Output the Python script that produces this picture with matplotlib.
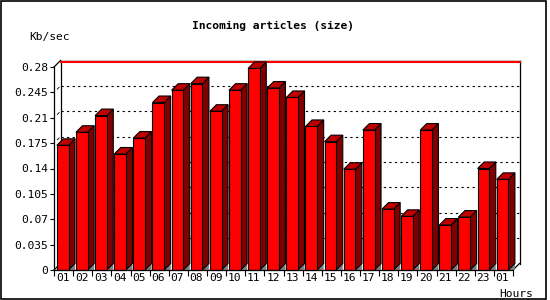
import matplotlib
matplotlib.use("Agg")
import matplotlib.pyplot as plt
from matplotlib.patches import Rectangle, Polygon

hours = ["01", "02", "03", "04", "05", "06", "07", "08", "09", "10", "11", "12",
         "13", "14", "15", "16", "17", "18", "19", "20", "21", "22", "23", "01"]
kbsec = [0.172, 0.190, 0.213, 0.160, 0.182, 0.231, 0.248, 0.257, 0.219, 0.248, 0.278, 0.251,
         0.238, 0.198, 0.177, 0.139, 0.193, 0.084, 0.074, 0.193, 0.062, 0.073, 0.140, 0.125]
yticks = [0, 0.035, 0.07, 0.105, 0.14, 0.175, 0.21, 0.245, 0.28]
ytick_labels = ["0", "0.035", "0.07", "0.105", "0.14", "0.175", "0.21", "0.245", "0.28"]

W, H = 550, 300
fig = plt.figure(figsize=(W / 100, H / 100), dpi=100)
fig.patch.set_facecolor("white")
mono = "DejaVu Sans Mono"
fs = 8.1

# front plane of the chart, in pixels: x 54..513, y 67..270
ax = fig.add_axes([54 / W, 30 / H, 459 / W, 203 / H])
ax.set_xlim(0, len(hours))
ax.set_ylim(0, 0.28)
ax.patch.set_visible(False)

px_x = len(hours) / 459.0
px_y = 0.28 / 203.0
dx = 6.5 * px_x
dy = 6.5 * px_y
top = 0.28
n = len(hours)

# back wall
ax.add_patch(Rectangle((dx, dy), n, top, facecolor="white", edgecolor="none", zorder=0, clip_on=False))
for v in yticks[1:-1]:
    ax.plot([dx, n + dx], [v + dy, v + dy], color="black", lw=0.8, ls=(0, (2, 3)), zorder=1, clip_on=False)
    ax.plot([0.5 * dx, 0.8 * dx], [v + 0.5 * dy, v + 0.8 * dy], color="black", lw=0.6, zorder=1, clip_on=False)
ax.plot([dx, dx], [dy, top + dy], color="black", lw=0.9, zorder=1, clip_on=False)
ax.plot([n + dx, n + dx], [dy, top + dy], color="black", lw=0.9, zorder=1, clip_on=False)
ax.plot([n, n + dx], [0, dy], color="black", lw=0.9, zorder=1, clip_on=False)
ax.plot([0, dx], [0, dy], color="black", lw=0.9, zorder=1, clip_on=False)
ax.plot([0, dx], [top, top + dy], color="black", lw=0.9, zorder=1, clip_on=False)
ax.plot([dx, n + dx], [top + dy, top + dy], color="black", lw=1.0, zorder=1, clip_on=False)
ax.plot([dx, n + dx], [top + dy - 1.2 * px_y, top + dy - 1.2 * px_y], color="red", lw=1.5, zorder=1, clip_on=False)

# 3d bars
off, bw = 0.15, 0.61
for i, v in enumerate(kbsec):
    x0 = i + off
    x1 = x0 + bw
    ax.add_patch(Polygon([(x1, 0), (x1 + dx, dy), (x1 + dx, 0)], closed=True,
                         facecolor="#808080", edgecolor="none", zorder=2, clip_on=False))
    ax.add_patch(Polygon([(x1, 0), (x1 + dx, dy), (x1 + dx, v + dy), (x1, v)], closed=True,
                         facecolor="#800000", edgecolor="black", lw=0.8, zorder=3, clip_on=False))
    ax.add_patch(Polygon([(x0, v), (x0 + dx, v + dy), (x1 + dx, v + dy), (x1, v)], closed=True,
                         facecolor="#c00000", edgecolor="black", lw=0.8, zorder=3, clip_on=False))
    ax.add_patch(Rectangle((x0, 0), bw, v, facecolor="#ff0000", edgecolor="black", lw=0.8,
                           zorder=4, clip_on=False))

for s in ["top", "right"]:
    ax.spines[s].set_visible(False)
for s in ["left", "bottom"]:
    ax.spines[s].set_linewidth(0.9)
    ax.spines[s].set_zorder(5)

ax.set_yticks(yticks)
ax.set_yticklabels(ytick_labels, fontfamily=mono, fontsize=fs)
ax.tick_params(axis="y", direction="out", length=3, width=0.8, pad=1)

ax.set_xticks([i + 0.45 for i in range(n)])
ax.set_xticklabels(hours, fontfamily=mono, fontsize=fs)
ax.set_xticks(range(n + 1), minor=True)
ax.tick_params(axis="x", which="major", length=0, pad=2.5)
ax.tick_params(axis="x", which="minor", direction="out", length=4, width=0.8)

fig.text(273.5 / W, 1 - 26 / H, "Incoming articles (size)", fontfamily=mono, fontweight="bold",
         fontsize=fs, ha="center", va="center")
fig.text(29 / W, 1 - 37 / H, "Kb/sec", fontfamily=mono, fontsize=fs, ha="left", va="center")
fig.text(533 / W, 1 - 297 / H, "Hours", fontfamily=mono, fontsize=fs, ha="right", va="baseline")

# outer frame
fig.add_artist(Rectangle((0.5 / W, 1.5 / H), 545.5 / W, 298 / H, transform=fig.transFigure,
                         facecolor="none", edgecolor="black", lw=1.2))

fig.savefig("out.png", dpi=100, facecolor="white")
